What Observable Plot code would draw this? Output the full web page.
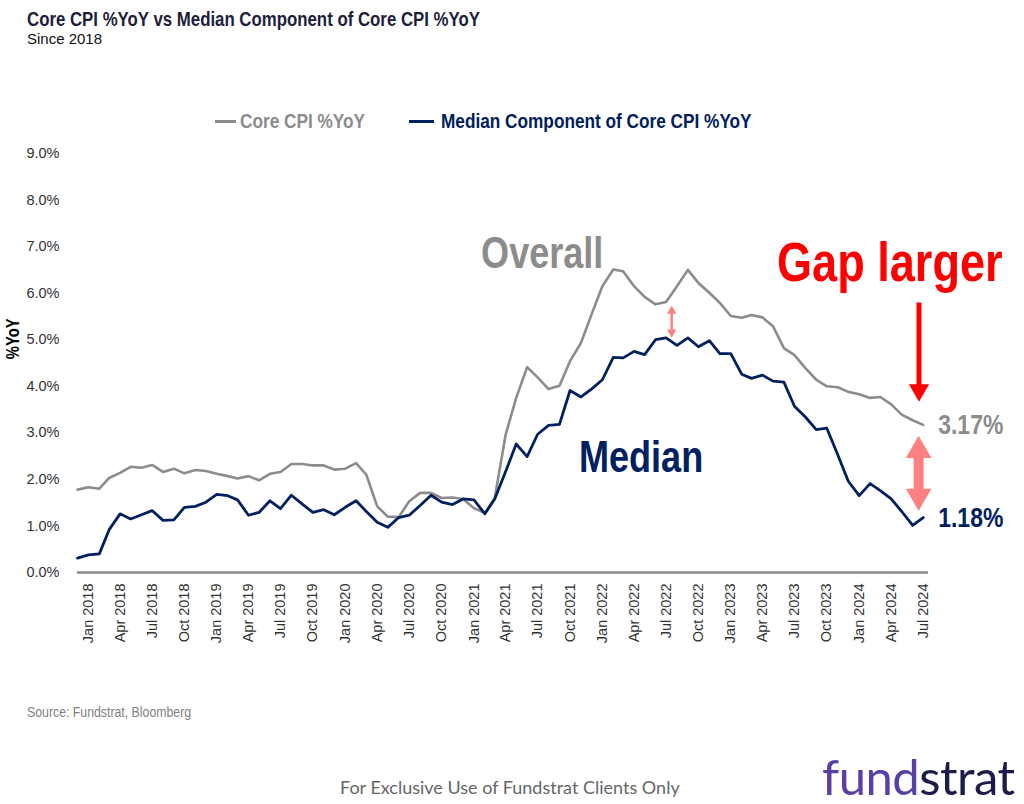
<!DOCTYPE html>
<html><head><meta charset="utf-8">
<script src="https://cdn.jsdelivr.net/npm/d3@7"></script>
<script src="https://cdn.jsdelivr.net/npm/@observablehq/plot@0.6"></script>
<style>
html,body{margin:0;padding:0;background:#fff;}
#wrap{position:relative;width:1024px;height:804px;overflow:hidden;background:#fff;}
#wrap svg{position:absolute;left:0;top:0;}
.t{position:absolute;white-space:nowrap;line-height:1;}
</style></head><body><div id="wrap"></div>
<script>
// ---------------- data (monthly, Dec 2017 .. Jul 2024) ----------------
const firstMonth = "2017-12";
const coreCPI = [
  1.78, 1.83, 1.80, 2.03, 2.14, 2.27, 2.25, 2.31, 2.16, 2.23, 2.13, 2.20,
  2.18, 2.12, 2.07, 2.02, 2.07, 1.98, 2.12, 2.16, 2.33, 2.33, 2.30, 2.30,
  2.21, 2.23, 2.35, 2.10, 1.42, 1.20, 1.19, 1.53, 1.71, 1.71, 1.60, 1.61,
  1.58, 1.38, 1.28, 1.60, 2.96, 3.75, 4.41, 4.19, 3.94, 4.01, 4.54, 4.93,
  5.54, 6.15, 6.51, 6.47, 6.15, 5.92, 5.76, 5.81, 6.15, 6.50, 6.22, 6.01,
  5.79, 5.51, 5.47, 5.53, 5.48, 5.29, 4.82, 4.67, 4.39, 4.14, 4.00, 3.98,
  3.88, 3.83, 3.75, 3.77, 3.61, 3.39, 3.27, 3.17
];
const medianCPI = [
  0.31, 0.38, 0.40, 0.92, 1.26, 1.15, 1.24, 1.33, 1.12, 1.13, 1.40, 1.42,
  1.51, 1.68, 1.65, 1.56, 1.23, 1.29, 1.54, 1.37, 1.66, 1.47, 1.29, 1.35,
  1.24, 1.40, 1.54, 1.31, 1.08, 0.97, 1.18, 1.23, 1.44, 1.66, 1.51, 1.46,
  1.58, 1.56, 1.26, 1.58, 2.17, 2.76, 2.49, 2.97, 3.16, 3.18, 3.91, 3.77,
  3.94, 4.14, 4.62, 4.61, 4.75, 4.68, 5.00, 5.04, 4.88, 5.04, 4.85, 4.98,
  4.70, 4.70, 4.26, 4.17, 4.24, 4.11, 4.09, 3.57, 3.34, 3.07, 3.10, 2.53,
  1.96, 1.65, 1.91, 1.76, 1.58, 1.31, 1.01, 1.18
];
const seriesNames = ["Core CPI %YoY", "Median Component of Core CPI %YoY"];
const xTickLabels = [
  "Jan 2018","Apr 2018","Jul 2018","Oct 2018","Jan 2019","Apr 2019","Jul 2019","Oct 2019",
  "Jan 2020","Apr 2020","Jul 2020","Oct 2020","Jan 2021","Apr 2021","Jul 2021","Oct 2021",
  "Jan 2022","Apr 2022","Jul 2022","Oct 2022","Jan 2023","Apr 2023","Jul 2023","Oct 2023",
  "Jan 2024","Apr 2024","Jul 2024"
];
const yTicks = [0, 1, 2, 3, 4, 5, 6, 7, 8, 9];

// ---------------- fonts ----------------
function hasFont(name) {
  const c = document.createElement("canvas").getContext("2d");
  const s = "Core CPI %YoY vs Median 2018 Wg";
  c.font = "20px monospace"; const a = c.measureText(s).width;
  c.font = `20px "${name}", monospace`; const b = c.measureText(s).width;
  return Math.abs(a - b) > 0.5;
}
const narrowOK = hasFont("Liberation Sans Narrow");
// condensed face: real narrow font if present, else Arial-metric font squeezed horizontally
const NARROW = narrowOK ? '"Liberation Sans Narrow", "Arial Narrow", sans-serif' : 'Arial, "Liberation Sans", sans-serif';
const SX = narrowOK ? 1 : 0.82;
const ARIAL = '"Liberation Sans", Arial, Helvetica, sans-serif';

// ---------------- build tables ----------------
const t0 = d3.utcParse("%Y-%m")(firstMonth);
const dates = coreCPI.map((_, i) => d3.utcMonth.offset(t0, i));
const coreRows = dates.map((d, i) => ({date: d, v: coreCPI[i]}));
const medRows = dates.map((d, i) => ({date: d, v: medianCPI[i]}));
const parseTick = d3.utcParse("%b %Y");
const xTicks = xTickLabels.map(parseTick);
const day = (y, m, d) => new Date(Date.UTC(y, m - 1, d));

const GRAY = "#8c8c8c", NAVY = "#002060", RED = "#ff0000", PINK = "#ff8080";

// annotation anchors (data coordinates)
const redX = day(2024, 6, 19), pinkX = day(2024, 6, 18), smallX = day(2022, 7, 17);

const lastCore = coreRows[coreRows.length - 1], lastMed = medRows[medRows.length - 1];

const chart = Plot.plot({
  width: 1024, height: 804,
  marginLeft: 77, marginRight: 96, marginTop: 153, marginBottom: 232,
  style: {fontFamily: ARIAL, fontSize: "14.5px", color: "#333", background: "transparent"},
  x: {type: "utc", domain: [t0, day(2024, 7, 16)], ticks: xTicks, tickFormat: d3.utcFormat("%b %Y"),
      tickRotate: -90, tickSize: 0, tickPadding: 11, label: null},
  y: {domain: [0, 9], ticks: yTicks, tickFormat: d => d.toFixed(1) + "%", tickSize: 0, tickPadding: 18, label: null},
  marks: [
    Plot.ruleY([0], {stroke: "#888", strokeWidth: 2.5}),
    Plot.lineY(coreRows, {x: "date", y: "v", stroke: GRAY, strokeWidth: 2.6}),
    Plot.lineY(medRows, {x: "date", y: "v", stroke: NAVY, strokeWidth: 2.8}),
    // end labels
    Plot.text([lastCore], {x: "date", y: "v", text: d => d.v.toFixed(2) + "%", dx: 15, textAnchor: "start",
      fill: GRAY, fontWeight: "bold", fontSize: 28, fontFamily: NARROW}),
    Plot.text([lastMed], {x: "date", y: "v", text: d => d.v.toFixed(2) + "%", dx: 15, textAnchor: "start",
      fill: NAVY, fontWeight: "bold", fontSize: 28, fontFamily: NARROW}),
    // big annotations
    Plot.text(["Overall"], {x: day(2021, 7, 14), y: 6.85, fill: GRAY, fontWeight: "bold", fontSize: 44, fontFamily: NARROW}),
    Plot.text(["Median"], {x: day(2022, 4, 21), y: 2.46, fill: NAVY, fontWeight: "bold", fontSize: 44, fontFamily: NARROW}),
    Plot.text(["Gap larger"], {x: day(2024, 3, 28), y: 6.63, fill: RED, fontWeight: "bold", fontSize: 55, fontFamily: NARROW}),
    // red arrow
    Plot.link([0], {x1: redX, x2: redX, y1: 5.80, y2: 3.98, stroke: RED, strokeWidth: 5}),
    Plot.dot([0], {x: redX, y: 3.92, symbol: "triangle", r: 7.5, rotate: 180, fill: RED, stroke: "none"}),
    // pink double arrow (large)
    Plot.link([0], {x1: pinkX, x2: pinkX, y1: 2.60, y2: 1.66, stroke: PINK, strokeWidth: 10}),
    Plot.dot([0], {x: pinkX, y: 2.62, symbol: "triangle", r: 9.5, fill: PINK, stroke: "none"}),
    Plot.dot([0], {x: pinkX, y: 1.64, symbol: "triangle", r: 9.5, rotate: 180, fill: PINK, stroke: "none"}),
    // pink double arrow (small)
    Plot.link([0], {x1: smallX, x2: smallX, y1: 5.61, y2: 5.17, stroke: PINK, strokeWidth: 2.5}),
    Plot.dot([0], {x: smallX, y: 5.615, symbol: "triangle", r: 3.5, fill: PINK, stroke: "none"}),
    Plot.dot([0], {x: smallX, y: 5.16, symbol: "triangle", r: 3.5, rotate: 180, fill: PINK, stroke: "none"}),
    // y axis title
    Plot.text(["%YoY"], {frameAnchor: "left", y: 5.02, dx: -64, rotate: -90, textAnchor: "middle", fill: "#000",
      fontWeight: "bold", fontSize: 18, fontFamily: NARROW})
  ]
});

// squeeze condensed-face texts horizontally when no narrow font is installed
if (SX !== 1) {
  chart.querySelectorAll("g[font-family]").forEach(g => {
    if (g.getAttribute("font-family") !== NARROW) return;
    g.querySelectorAll("text").forEach(t => {
      const tr = t.getAttribute("transform") || "";
      t.setAttribute("transform", (tr + ` scale(${SX},1)`).trim());
    });
  });
}

const wrap = document.getElementById("wrap");
wrap.appendChild(chart);

// ---------------- HTML texts ----------------
function addText(txt, css, narrow) {
  const el = document.createElement("div");
  el.className = "t"; el.textContent = txt;
  Object.assign(el.style, css);
  if (narrow) { el.style.fontFamily = NARROW; el.style.transform = `scaleX(${SX})`; el.style.transformOrigin = "0 0"; }
  wrap.appendChild(el); return el;
}
function addBox(css) { const el = document.createElement("div"); el.style.position = "absolute"; Object.assign(el.style, css); wrap.appendChild(el); }

addText("Core CPI %YoY vs Median Component of Core CPI %YoY",
  {left: "27px", top: "9px", fontWeight: "bold", fontSize: "20.5px", color: "#1e1e3c"}, true);
addText("Since 2018", {left: "27px", top: "30.5px", fontFamily: ARIAL, fontSize: "15px", color: "#111"});

// legend
addBox({left: "215px", top: "119.5px", width: "21px", height: "3px", background: GRAY});
addText(seriesNames[0], {left: "240px", top: "110px", fontWeight: "bold", fontSize: "21px", color: GRAY}, true);
addBox({left: "409px", top: "119.5px", width: "25px", height: "3px", background: NAVY});
addText(seriesNames[1], {left: "441px", top: "110px", fontWeight: "bold", fontSize: "21px", color: NAVY}, true);

// footer
addText("Source: Fundstrat, Bloomberg", {left: "27px", top: "704px", fontSize: "15px", color: "#7f7f7f"}, true);
addText("For Exclusive Use of Fundstrat Clients Only", {left: "340px", top: "778px", fontFamily: "Lato, sans-serif", fontSize: "18px", color: "#666"});
const logo = addText("", {left: "822px", top: "752px", fontFamily: "Lato, sans-serif", fontSize: "49px", letterSpacing: "-0.5px"});
logo.innerHTML = '<span style="color:#5a3fa6">fund</span><span style="color:#1c1c4a">strat</span>';
</script></body></html>
